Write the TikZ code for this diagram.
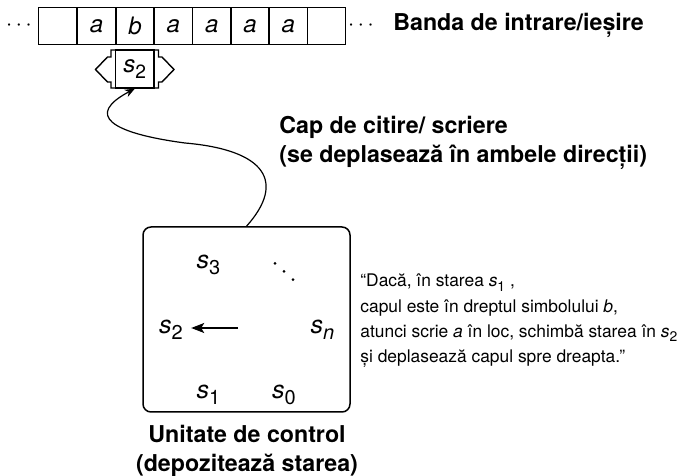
\documentclass[tikz,border=0pt]{standalone}
\usepackage{fontspec}
\setmainfont{TeX Gyre Heros}
\usepackage{tikz}
\usetikzlibrary{arrows.meta}
\newcommand{\symb}[2]{\textit{#1}\raisebox{-0.25em}{\scalebox{0.8}{\upshape #2}}}
\tikzset{
	cell/.style={draw, line width=0.7pt, minimum width=19.2pt, minimum height=18.5pt, inner sep=0pt, font=\fontsize{12}{14}\selectfont\itshape},
	lbl/.style={inner sep=0pt, font=\fontsize{11.6}{14.5}\selectfont\bfseries},
	stsym/.style={inner sep=0pt, font=\fontsize{12.5}{15}\selectfont},
}
\begin{document}
\begin{tikzpicture}[x=0.5pt, y=-0.5pt]
		%%%%% START %%%%%
		\useasboundingbox (0, 0) rectangle (682, 476);
		
		% tape
		\node[cell] (c0) at (57.5, 26) {};
		\node[cell] (c1) at (96.6, 26) {a};
		\node[cell] (c2) at (135, 26) {b};
		\node[cell] (c3) at (173.3, 26) {a};
		\node[cell] (c4) at (211.7, 26) {a};
		\node[cell] (c5) at (250, 26) {a};
		\node[cell] (c6) at (288.3, 26) {a};
		\node[cell] (c7) at (326.5, 26) {};
		\node[inner sep=0pt, font=\fontsize{10.5}{12}\selectfont] (dl) at (19, 26) {$\cdots$};
		\node[inner sep=0pt, font=\fontsize{10.5}{12}\selectfont] (dr) at (361, 26) {$\cdots$};
		\node[lbl, anchor=west] (tape) at (393, 25) {Banda de intrare/ieșire};
		
		% head
		\draw[line width=0.7pt] (115.5, 50) -- (111, 50) -- (111, 57) -- (107.5, 57) -- (95.5, 69.5) -- (107.5, 82) -- (111, 82) -- (111, 88) -- (115.5, 88);
		\draw[line width=0.7pt] (154, 50) -- (158.5, 50) -- (158.5, 57) -- (162, 57) -- (174, 69.5) -- (162, 82) -- (158.5, 82) -- (158.5, 88) -- (154, 88);
		\node[draw, fill=white, line width=0.7pt, minimum width=19.2pt, minimum height=19pt, inner sep=0pt, font=\fontsize{12}{14}\selectfont] (head) at (134.8, 69) {\symb{s}{2}};
		
		% control unit
		\node[draw, rounded corners=4pt, line width=0.75pt, minimum width=103.5pt, minimum height=92.5pt] (ctrl) at (246.5, 319.5) {};
		\node[stsym] (s3) at (208.5, 265) {\symb{s}{3}};
		\foreach \k in {0, 1, 2}
			\fill (275 + \k*9, 263.3 + \k*8.2) circle (0.75pt);
		\node[stsym] (s2) at (171, 330) {\symb{s}{2}};
		\node[stsym] (sn) at (322.5, 330) {\symb{s}{\textit{n}}};
		\node[stsym] (s1) at (208.5, 395) {\symb{s}{1}};
		\node[stsym] (s0) at (284, 395) {\symb{s}{0}};
		\coordinate (tail) at (238, 328);
		\draw[-{Stealth[length=6.5pt, width=5pt, inset=1.5pt]}, line width=0.65pt] (tail) -- ([xshift=4pt]s2.east |- tail);
		
		% read/write head link
		\draw[-{Stealth[length=5pt, width=4pt]}, line width=0.6pt] (ctrl.north) .. controls (286, 182) and (266, 150) .. (185, 143) .. controls (110, 133) and (85, 115) .. (head.south);
		
		\node[lbl, anchor=west, align=left] (rw) at (279, 142.5) {Cap de citire/ scriere\\(se deplasează în ambele direcții)};
		\node[lbl, align=center] (unit) at (247, 450.5) {Unitate de control\\(depozitează starea)};
		\node[inner sep=0pt, anchor=west, align=left, font=\fontsize{8.7}{12.7}\selectfont] (rule) at (360, 321) {“Dacă, în starea \symb{s}{1} ,\\capul este în dreptul simbolului \textit{b},\\atunci scrie \textit{a} în loc, schimbă starea în \symb{s}{2}\\și deplasează capul spre dreapta.”};
		%%%%% END %%%%%
	\end{tikzpicture}
\end{document}
